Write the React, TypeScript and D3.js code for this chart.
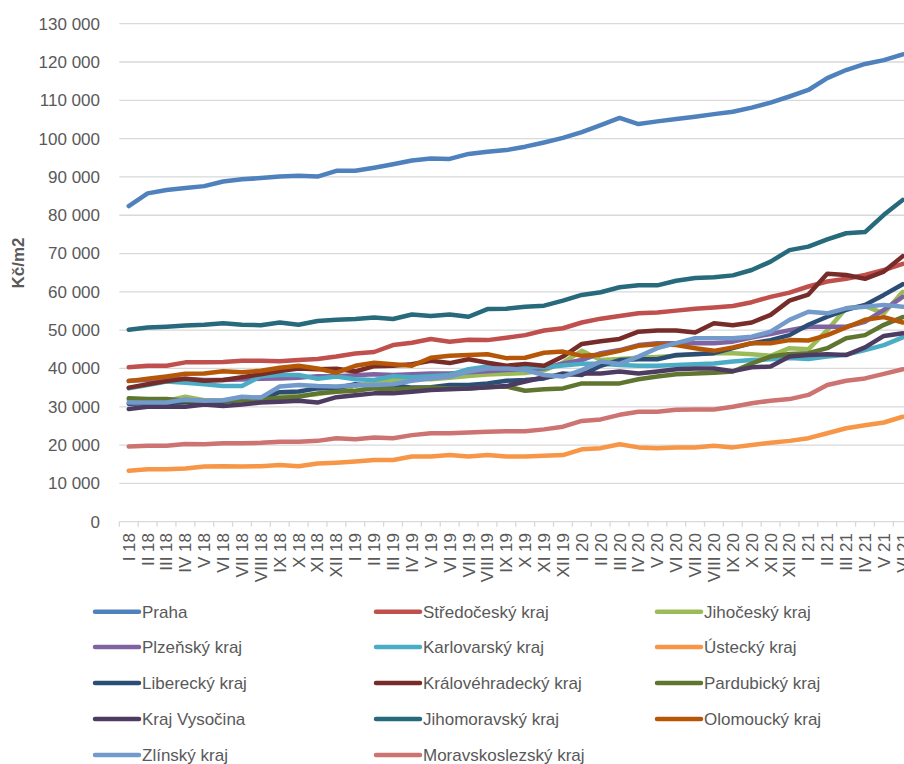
import React from "react";
import * as d3 from "d3";

const months = [
  "I 18","II 18","III 18","IV 18","V 18","VI 18","VII 18","VIII 18","IX 18","X 18","XI 18","XII 18",
  "I 19","II 19","III 19","IV 19","V 19","VI 19","VII 19","VIII 19","IX 19","X 19","XI 19","XII 19",
  "I 20","II 20","III 20","IV 20","V 20","VI 20","VII 20","VIII 20","IX 20","X 20","XI 20","XII 20",
  "I 21","II 21","III 21","IV 21","V 21","VI 21",
];

const yTicks = [0, 10000, 20000, 30000, 40000, 50000, 60000, 70000, 80000, 90000, 100000, 110000, 120000, 130000];

const regionNames = [
  "Praha", "Středočeský kraj", "Jihočeský kraj", "Plzeňský kraj", "Karlovarský kraj", "Ústecký kraj",
  "Liberecký kraj", "Královéhradecký kraj", "Pardubický kraj", "Kraj Vysočina", "Jihomoravský kraj",
  "Olomoucký kraj", "Zlínský kraj", "Moravskoslezský kraj",
];

const regionColors = [
  "#4F81BD", "#C0504D", "#9BBB59", "#8064A2", "#4BACC6", "#F79646",
  "#2C4D75", "#772C2A", "#5F7530", "#4D3B62", "#276A7C", "#B65708",
  "#729ACA", "#CD7371",
];

const praha = [82400, 85700, 86600, 87100, 87600, 88800, 89400, 89700, 90100, 90300, 90100, 91600, 91600, 92400, 93300, 94300, 94800, 94700, 96000, 96600, 97000, 97900, 99000, 100200, 101700, 103500, 105400, 103800, 104500, 105100, 105700, 106400, 107000, 108100, 109400, 111000, 112700, 115800, 117900, 119500, 120500, 122000];
const stredocesky = [40300, 40700, 40700, 41600, 41600, 41700, 42000, 42000, 41900, 42200, 42500, 43100, 43900, 44300, 46100, 46700, 47700, 47000, 47500, 47400, 48000, 48700, 49900, 50500, 52000, 53000, 53700, 54400, 54600, 55100, 55600, 55900, 56300, 57300, 58700, 59800, 61400, 62700, 63400, 64400, 65700, 67300];
const jihocesky = [31800, 31600, 31500, 32600, 31700, 31500, 31800, 32500, 32600, 32900, 33300, 34000, 35500, 36300, 37000, 37400, 37200, 37600, 38000, 38400, 38600, 38800, 39500, 41500, 44600, 42200, 42500, 42800, 43000, 43300, 43800, 44000, 44000, 43700, 43300, 45300, 45000, 50000, 55700, 56300, 54400, 60000];
const plzensky = [36800, 37000, 37200, 37300, 37000, 37000, 37100, 37300, 37400, 37600, 38000, 38000, 38200, 38500, 38300, 38500, 38700, 38700, 39000, 39300, 39600, 39800, 40000, 41300, 42200, 44000, 44800, 46100, 46600, 46600, 46600, 46600, 47000, 48100, 49000, 50000, 50900, 50900, 50900, 52200, 55300, 58700];
const karlovarsky = [34800, 35700, 36600, 36300, 35900, 35400, 35400, 38000, 38300, 38300, 37300, 37900, 37200, 37000, 38000, 37700, 38000, 38300, 39800, 40500, 40300, 40500, 40300, 40800, 41200, 41200, 40900, 40700, 40700, 40900, 41100, 41300, 41800, 42200, 42400, 42700, 42500, 43100, 43600, 44800, 46100, 48100];
const ustecky = [13300, 13700, 13700, 13900, 14400, 14500, 14400, 14500, 14800, 14500, 15200, 15400, 15700, 16100, 16100, 17000, 17000, 17400, 17000, 17400, 17000, 17000, 17200, 17400, 18900, 19200, 20200, 19400, 19200, 19400, 19400, 19800, 19400, 20000, 20600, 21100, 21800, 23100, 24400, 25200, 25900, 27400];
const liberecky = [30800, 30900, 31000, 31200, 31200, 31300, 31800, 32200, 33800, 34000, 34800, 34900, 35900, 35300, 35700, 35000, 35100, 35700, 35700, 36100, 36800, 37000, 37400, 38700, 38300, 40700, 42200, 42400, 42400, 43500, 43700, 44000, 45300, 46600, 47400, 48700, 51400, 53500, 55300, 56600, 59200, 62000];
const kralovehradecky = [35000, 35900, 36700, 37300, 36800, 37000, 37700, 38500, 39300, 40000, 39800, 39900, 39200, 40600, 40700, 41100, 42000, 41400, 42400, 41500, 40700, 41200, 40700, 43100, 46400, 47100, 47700, 49600, 49900, 49900, 49400, 51800, 51300, 52000, 54000, 57700, 59300, 64700, 64400, 63400, 65300, 69300];
const pardubicky = [32200, 32000, 32000, 31600, 31500, 31600, 31700, 32000, 32300, 32600, 33500, 33900, 34200, 34800, 34600, 34800, 35000, 34800, 34800, 35100, 35300, 34200, 34600, 34800, 36100, 36100, 36100, 37200, 37900, 38500, 38700, 38900, 39200, 41300, 43100, 43800, 44000, 45300, 47900, 48700, 51400, 53400];
const vysocina = [29400, 30000, 30100, 30000, 30600, 30200, 30600, 31100, 31300, 31600, 31100, 32500, 33000, 33500, 33500, 33900, 34400, 34600, 34800, 35100, 35400, 36600, 37700, 38300, 38700, 38700, 39200, 38700, 39200, 39800, 40000, 40000, 39300, 40300, 40500, 43100, 43500, 43700, 43500, 45500, 48500, 49200];
const jihomoravsky = [50100, 50700, 50900, 51200, 51400, 51800, 51400, 51300, 52000, 51400, 52400, 52700, 52900, 53300, 52900, 54100, 53700, 54100, 53500, 55500, 55600, 56100, 56400, 57700, 59200, 59900, 61200, 61700, 61700, 62900, 63600, 63800, 64300, 65700, 67900, 70900, 71800, 73700, 75300, 75600, 80100, 84000];
const olomoucky = [36700, 37300, 37900, 38600, 38700, 39300, 39000, 39400, 40200, 40700, 40000, 38900, 40700, 41500, 41100, 40700, 42800, 43300, 43500, 43700, 42700, 42800, 44100, 44400, 43300, 43600, 44600, 45900, 46300, 46100, 45300, 44600, 45500, 46600, 46600, 47400, 47300, 48700, 50700, 52700, 53400, 52000];
const zlinsky = [31100, 31100, 31100, 31900, 31600, 31700, 32600, 32400, 35300, 35700, 35400, 35300, 35600, 35700, 35900, 36800, 37400, 37900, 39200, 40000, 40000, 39600, 38300, 37900, 39600, 41800, 41200, 43100, 45300, 46600, 47900, 47900, 47900, 48300, 49600, 52700, 54800, 54400, 55700, 56100, 56600, 56100];
const moravskoslezsky = [19600, 19800, 19800, 20300, 20200, 20500, 20500, 20600, 20900, 20900, 21100, 21800, 21500, 22000, 21800, 22600, 23100, 23100, 23300, 23500, 23600, 23600, 24100, 24800, 26300, 26700, 27900, 28700, 28700, 29200, 29300, 29300, 30000, 30900, 31600, 32000, 33100, 35700, 36800, 37400, 38600, 39800];

const seriesValues = [
  praha, stredocesky, jihocesky, plzensky, karlovarsky, ustecky, liberecky,
  kralovehradecky, pardubicky, vysocina, jihomoravsky, olomoucky, zlinsky, moravskoslezsky,
];

const W = 904;
const H = 764;
const FONT = "'Liberation Sans', Arial, sans-serif";
const TEXT = "#595959";
const GRID = "#D9D9D9";

const plotLeft = 119.3;
const plotRight = 912.2;
const plotTop = 23.7;
const plotBottom = 521.7;

const x = d3.scalePoint<string>().domain(months).range([plotLeft, plotRight]).padding(0.5);
const step = x.step();
const y = d3.scaleLinear().domain([0, 130000]).range([plotBottom, plotTop]);

const fmt = d3.formatLocale({ decimal: ",", thousands: " ", grouping: [3], currency: ["", " Kč"] }).format(",d");

const line = d3
  .line<number>()
  .x((_, i) => x(months[i]) as number)
  .y((v) => y(v));

const legendRows = [611.7, 647, 683, 719, 755];
const legendCols = [95, 376, 657];

export default function App() {
  return (
    <svg
      width={W}
      height={H}
      viewBox={`0 0 ${W} ${H}`}
      style={{ position: "absolute", left: 0, top: 0, background: "#fff" }}
      fontFamily={FONT}
    >
      <rect width={W} height={H} fill="#fff" />

      {/* horizontal gridlines */}
      {yTicks.map((t) => (
        <line key={`g${t}`} x1={plotLeft} x2={W} y1={y(t)} y2={y(t)} stroke={GRID} strokeWidth={1.3} />
      ))}

      {/* y tick labels */}
      {yTicks.map((t) => (
        <text key={`yl${t}`} x={100} y={y(t)} dy="0.35em" textAnchor="end" fontSize={17} fill={TEXT}>
          {fmt(t)}
        </text>
      ))}

      {/* axis title */}
      <text
        transform={`translate(18, 263) rotate(-90)`}
        dy="0.35em"
        textAnchor="middle"
        fontSize={17}
        fontWeight="bold"
        fill={TEXT}
      >
        Kč/m2
      </text>

      {/* category tick marks */}
      {d3.range(months.length + 1).map((k) => (
        <line
          key={`t${k}`}
          x1={plotLeft + k * step}
          x2={plotLeft + k * step}
          y1={plotBottom}
          y2={plotBottom + 5}
          stroke={GRID}
          strokeWidth={1.3}
        />
      ))}

      {/* category labels */}
      {months.map((m) => (
        <text
          key={`xl${m}`}
          transform={`translate(${x(m)}, 533) rotate(-90)`}
          dy="0.35em"
          textAnchor="end"
          fontSize={17}
          fill={TEXT}
        >
          {m}
        </text>
      ))}

      {/* series lines */}
      {seriesValues.map((vals, i) => (
        <path
          key={`s${i}`}
          d={line(vals) ?? ""}
          fill="none"
          stroke={regionColors[i]}
          strokeWidth={4.5}
          strokeLinejoin="round"
          strokeLinecap="round"
        />
      ))}

      {/* legend */}
      {regionNames.map((name, i) => {
        const row = Math.floor(i / 3);
        const col = i % 3;
        const lx = legendCols[col];
        const ly = legendRows[row];
        return (
          <g key={`lg${i}`}>
            <line x1={lx} x2={lx + 44} y1={ly} y2={ly} stroke={regionColors[i]} strokeWidth={4.5} strokeLinecap="round" />
            <text x={lx + 47} y={ly} dy="0.35em" fontSize={17} fill={TEXT}>
              {name}
            </text>
          </g>
        );
      })}
    </svg>
  );
}
